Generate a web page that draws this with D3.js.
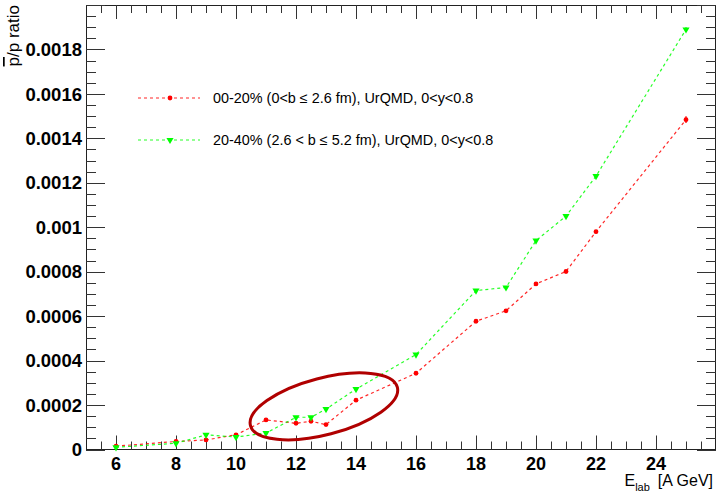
<!DOCTYPE html>
<html>
<head>
<meta charset="utf-8">
<script src="https://cdn.jsdelivr.net/npm/d3@7"></script>
<style>
  body { margin: 0; background: #fff; }
  svg { display: block; }
  text { font-family: "Liberation Sans", Arial, Helvetica, sans-serif; fill: #000; }
</style>
</head>
<body>
<svg id="chart" width="718" height="494"></svg>
<script>
// Beam energies (A GeV)
const energies = [6, 8, 9, 10, 11, 12, 12.5, 13, 14, 16, 18, 19, 20, 21, 22, 25];

// anti-proton / proton ratio, UrQMD, 0<y<0.8
const central =     [0.000015, 0.000036, 0.000043, 0.000066, 0.000133, 0.000118, 0.000127, 0.000112,
                     0.000222, 0.000343, 0.000577, 0.000624, 0.000745, 0.000801, 0.00098, 0.001484];
const centralErr =  [0.000003, 0.000003, 0.000003, 0.000003, 0.000004, 0.000004, 0.000004, 0.000004,
                     0.000005, 0.000005, 0.000006, 0.000006, 0.000007, 0.000007, 0.000008, 0.000015];
const semiCentral = [0.00001, 0.000028, 0.000066, 0.000056, 0.000074, 0.000145, 0.000145, 0.000182,
                     0.000272, 0.000427, 0.000715, 0.000729, 0.00094, 0.00105, 0.00123, 0.00189];
const semiErr =     [0.000003, 0.000003, 0.000003, 0.000003, 0.000003, 0.000004, 0.000004, 0.000004,
                     0.000004, 0.000005, 0.000006, 0.000006, 0.000007, 0.000007, 0.000008, 0.00001];

const seriesNames = [
  "00-20% (0<b \u2264 2.6 fm), UrQMD, 0<y<0.8",
  "20-40% (2.6 < b \u2264 5.2 fm), UrQMD, 0<y<0.8"
];
const seriesColors = ["#ff0000", "#00ff00"];

const xTickValues = [6, 8, 10, 12, 14, 16, 18, 20, 22, 24];
const yTickValues = [0, 0.0002, 0.0004, 0.0006, 0.0008, 0.001, 0.0012, 0.0014, 0.0016, 0.0018];
const yTickLabels = ["0", "0.0002", "0.0004", "0.0006", "0.0008", "0.001", "0.0012", "0.0014", "0.0016", "0.0018"];

// highlighted region (data units: centre, half-axes, tilt in degrees)
const highlight = { e: 12.93, r: 0.000194, halfE: 2.53, halfR: 0.0001275, tilt: -14.65 };

const svg = d3.select("#chart");
const plot = { left: 86, right: 716, top: 5, bottom: 449.5 };

const x = d3.scaleLinear().domain([5, 26]).range([plot.left, plot.right]);
const y = d3.scaleLinear().domain([0, 0.002]).range([plot.bottom, plot.top]);

// frame
svg.append("rect")
  .attr("x", plot.left + 0.5).attr("y", plot.top + 0.5)
  .attr("width", plot.right - plot.left - 1).attr("height", plot.bottom - plot.top - 0.5)
  .attr("fill", "none").attr("stroke", "#222").attr("stroke-width", 1);

const tickColor = "#333";
// x ticks, bottom and top
const xMinor = d3.range(5.5, 26, 0.5);
const gx = svg.append("g");
xMinor.forEach(v => {
  const major = xTickValues.includes(v);
  const len = major ? 14 : 8;
  const px = Math.round(x(v)) + 0.5;
  gx.append("line").attr("x1", px).attr("x2", px).attr("y1", plot.bottom).attr("y2", plot.bottom - len)
    .attr("stroke", tickColor);
  gx.append("line").attr("x1", px).attr("x2", px).attr("y1", plot.top).attr("y2", plot.top + len)
    .attr("stroke", tickColor);
});
gx.selectAll("text.xl").data(xTickValues).join("text")
  .attr("x", d => x(d)).attr("y", 470)
  .attr("text-anchor", "middle")
  .attr("font-size", 18).attr("font-weight", "bold")
  .text(d => d);

// y ticks, left and right
const yMinor = d3.range(0, 0.002 + 1e-9, 0.00005);
const gy = svg.append("g");
yMinor.forEach((v, i) => {
  const major = i % 4 === 0;
  const len = major ? 19 : 10;
  const py = Math.round(y(v)) + 0.5;
  gy.append("line").attr("x1", plot.left).attr("x2", plot.left + len).attr("y1", py).attr("y2", py)
    .attr("stroke", tickColor);
  gy.append("line").attr("x1", plot.right).attr("x2", plot.right - len).attr("y1", py).attr("y2", py)
    .attr("stroke", tickColor);
});
gy.selectAll("text.yl").data(yTickValues).join("text")
  .attr("x", 82).attr("y", d => y(d))
  .attr("dy", "0.36em")
  .attr("text-anchor", "end")
  .attr("font-size", 18.5).attr("font-weight", "bold")
  .text((d, i) => yTickLabels[i]);

// axis titles
const xt = svg.append("text").attr("x", 713).attr("y", 485.5).attr("text-anchor", "end").attr("font-size", 16);
xt.append("tspan").text("E");
xt.append("tspan").attr("font-size", 11).attr("dy", 5).text("lab");
xt.append("tspan").attr("dy", -5).attr("dx", 8).text("[A GeV]");

const yt = svg.append("text").attr("transform", "translate(19,5) rotate(-90)")
  .attr("text-anchor", "end").attr("font-size", 17);
yt.append("tspan").style("text-decoration", "overline").text("p");
yt.append("tspan").text("/p ratio");

// series
const series = [
  { values: central, errs: centralErr, color: seriesColors[0], marker: "circle" },
  { values: semiCentral, errs: semiErr, color: seriesColors[1], marker: "triangle" }
];

const line = d3.line().x(d => x(d[0])).y(d => y(d[1]));
const triangle = d3.symbol().type(d3.symbolTriangle).size(22);

function drawMarker(g, cx, cy, s) {
  if (s.marker === "circle") {
    g.append("circle").attr("cx", cx).attr("cy", cy).attr("r", 2.4).attr("fill", s.color);
  } else {
    g.append("path").attr("d", triangle())
      .attr("transform", `translate(${cx},${cy}) rotate(180)`).attr("fill", s.color);
  }
}

series.forEach(s => {
  const pts = energies.map((e, i) => [e, s.values[i]]);
  const g = svg.append("g");
  g.append("path").datum(pts).attr("d", line)
    .attr("fill", "none").attr("stroke", s.color).attr("stroke-width", 1.2)
    .attr("stroke-opacity", 0.85)
    .attr("stroke-dasharray", "3,3");
  pts.forEach((p, i) => {
    g.append("line").attr("x1", x(p[0])).attr("x2", x(p[0]))
      .attr("y1", y(p[1] - s.errs[i])).attr("y2", y(p[1] + s.errs[i]))
      .attr("stroke", s.color).attr("stroke-width", 1.3);
    drawMarker(g, x(p[0]), y(p[1]), s);
  });
});

// highlighted region
svg.append("ellipse")
  .attr("cx", 0).attr("cy", 0)
  .attr("rx", x(highlight.e + highlight.halfE) - x(highlight.e))
  .attr("ry", y(0) - y(highlight.halfR))
  .attr("transform", `translate(${x(highlight.e)},${y(highlight.r)}) rotate(${highlight.tilt})`)
  .attr("fill", "none").attr("stroke", "#b00000").attr("stroke-width", 3);

// legend
const legend = svg.append("g");
seriesNames.forEach((name, i) => {
  const ly = 98 + i * 42;
  const s = series[i];
  legend.append("line").attr("x1", 138).attr("x2", 200).attr("y1", ly).attr("y2", ly)
    .attr("stroke", s.color).attr("stroke-width", 1.2).attr("stroke-opacity", 0.85)
    .attr("stroke-dasharray", "3,3");
  drawMarker(legend, 170, ly, s);
  legend.append("text").attr("x", 213).attr("y", ly).attr("dy", "0.35em")
    .attr("font-size", 14.4).text(name);
});
</script>
</body>
</html>
